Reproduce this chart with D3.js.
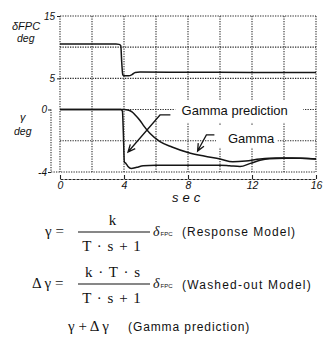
<!DOCTYPE html>
<html>
<head>
<meta charset="utf-8">
<script src="https://cdn.jsdelivr.net/npm/d3@7"></script>
<style>
  html, body { margin: 0; padding: 0; background: #fff; }
  svg { display: block; }
  .ax text { font-family: "Liberation Sans", Arial, sans-serif; font-style: italic; fill: #111; }
</style>
</head>
<body>
<svg id="chart" width="334" height="352"></svg>
<script>
// ---- time axis ----
const timeTicks = [0, 4, 8, 12, 16];
const timeTickLabels = ["0", "4", "8", "12", "16"];
const timeGrid = [2, 4, 6, 8, 10, 12, 14];

// ---- flap command (upper scale, deg) ----
const deltaTicks = [15, 5];
const deltaTickLabels = ["15", "5"];
const deltaGrid = [10, 5, 0];
const deltaFpcTime = [0, 3.5, 3.7, 3.8, 3.86, 3.92, 3.97, 4.3, 4.5, 4.7, 5.0, 8, 12, 16];
const deltaFpcDeg  = [10.5, 10.5, 10.45, 10.2, 7.5, 5.6, 5.4, 5.4, 5.6, 5.95, 6.0, 5.97, 5.95, 5.95];

// ---- flight path angle (lower scale, deg) ----
const gammaTicks = [0, -4];
const gammaTickLabels = ["0", "-4"];
const gammaGrid = [-2];
const gammaTime = [0, 4.0, 4.3, 4.5, 4.7, 5.0, 5.2, 5.6, 6.25, 7.0, 8.0, 9.0, 10.0, 10.8, 11.6, 12.5, 13.5, 14.5, 16];
const gammaDeg  = [0, 0, -0.05, -0.15, -0.35, -0.7, -1.0, -1.5, -2.05, -2.4, -2.75, -2.98, -3.17, -3.35, -3.3, -3.17, -3.1, -3.1, -3.17];

const predictionTime = [0, 3.8, 3.9, 3.96, 4.02, 4.12, 4.25, 4.45, 4.8, 5.2, 6, 8, 10, 10.6, 11.25, 11.9, 12.5, 13.1, 14, 15, 16];
const predictionDeg  = [0, 0, -0.1, -1.5, -3.35, -3.45, -3.65, -3.78, -3.7, -3.6, -3.57, -3.56, -3.56, -3.6, -3.65, -3.45, -3.25, -3.15, -3.12, -3.12, -3.17];

// ---- annotations (time, gamma) ----
const noteLabels = ["Gamma prediction", "Gamma"];
const noteTextAt = [[7.6, -0.35], [10.5, -2.15]];
const noteStart  = [[6.9, -0.35], [9.65, -1.63]];
const noteElbow  = [[6.25, -0.35], [9.15, -1.63]];
const noteTip    = [[4.25, -2.72], [8.6, -2.66]];
const noteBox    = [[7.2, 0.6, 8.0, 1.45], [9.75, -1.05, 3.85, 1.4]]; // t0, g0, width(t), height(g)

const svg = d3.select("#chart");
svg.append("rect").attr("width", 334).attr("height", 352).attr("fill", "#fff");

const x = d3.scaleLinear().domain([0, 16]).range([60, 316]);
const yD = d3.scaleLinear().domain([0, 15]).range([109.5, 16]);
const yG = d3.scaleLinear().domain([-4, 0]).range([172, 109.5]);

const dotted = sel => sel.attr("stroke", "#2a2a2a").attr("stroke-width", 1.1)
  .attr("stroke-dasharray", "1.3,1.2").attr("fill", "none");

const grid = svg.append("g");
// vertical grid
grid.selectAll(".vg").data(timeGrid).join("line")
  .attr("x1", d => x(d)).attr("x2", d => x(d))
  .attr("y1", yD(15)).attr("y2", yG(-4)).call(dotted);
// frame left/right
grid.selectAll(".vb").data([0, 16]).join("line")
  .attr("x1", d => x(d)).attr("x2", d => x(d))
  .attr("y1", yD(15)).attr("y2", yG(-4)).call(dotted);
// upper horizontal grid
grid.selectAll(".hd").data([15].concat(deltaGrid)).join("line")
  .attr("x1", x(0)).attr("x2", x(16))
  .attr("y1", d => yD(d)).attr("y2", d => yD(d)).call(dotted);
// lower horizontal grid
grid.selectAll(".hg").data(gammaGrid).join("line")
  .attr("x1", x(0)).attr("x2", x(16))
  .attr("y1", d => yG(d)).attr("y2", d => yG(d)).call(dotted);
// bottom edge, starting at the gamma axis
grid.append("line").attr("x1", 51).attr("x2", x(16))
  .attr("y1", yG(-4)).attr("y2", yG(-4)).call(dotted);
// gamma axis spine
grid.append("line").attr("x1", 51).attr("x2", 51)
  .attr("y1", yG(0)).attr("y2", yG(-4)).call(dotted);

// white label boxes
svg.selectAll(".nb").data(noteBox).join("rect")
  .attr("x", d => x(d[0])).attr("y", d => yG(d[1]))
  .attr("width", d => x(d[0] + d[2]) - x(d[0]))
  .attr("height", d => yG(d[1] - d[3]) - yG(d[1]))
  .attr("fill", "#fff");

// curves
const lineD = d3.line().x(d => x(d[0])).y(d => yD(d[1])).curve(d3.curveMonotoneX);
const lineG = d3.line().x(d => x(d[0])).y(d => yG(d[1])).curve(d3.curveMonotoneX);
const curveStyle = sel => sel.attr("fill", "none").attr("stroke", "#151515")
  .attr("stroke-width", 1.5).attr("stroke-linejoin", "round");

svg.append("path").datum(d3.zip(deltaFpcTime, deltaFpcDeg)).attr("d", lineD).call(curveStyle);
svg.append("path").datum(d3.zip(gammaTime, gammaDeg)).attr("d", lineG).call(curveStyle);
svg.append("path").datum(d3.zip(predictionTime, predictionDeg)).attr("d", lineG).call(curveStyle);

// annotation text and leaders
svg.selectAll(".nt").data(noteLabels).join("text")
  .attr("x", (d, i) => x(noteTextAt[i][0])).attr("y", (d, i) => yG(noteTextAt[i][1]))
  .attr("font-family", "Liberation Sans, Arial, sans-serif").attr("font-size", 13)
  .attr("fill", "#111").text(d => d);

noteLabels.forEach((d, i) => {
  const p0 = [x(noteStart[i][0]), yG(noteStart[i][1])];
  const p1 = [x(noteElbow[i][0]), yG(noteElbow[i][1])];
  const p2 = [x(noteTip[i][0]), yG(noteTip[i][1])];
  const ang = Math.atan2(p2[1] - p1[1], p2[0] - p1[0]);
  const L = 8, spread = 0.42;
  const a1 = [p2[0] - L * Math.cos(ang - spread), p2[1] - L * Math.sin(ang - spread)];
  const a2 = [p2[0] - L * Math.cos(ang + spread), p2[1] - L * Math.sin(ang + spread)];
  svg.append("path")
    .attr("d", d3.line()([p0, p1, p2]) + "M" + a1 + "L" + p2 + "L" + a2)
    .attr("fill", "none").attr("stroke", "#151515").attr("stroke-width", 1.3);
});

// time axis (offset below the frame)
const xAxis = d3.axisBottom(x).tickValues(timeTicks)
  .tickFormat((d, i) => timeTickLabels[i]).tickSizeInner(-4).tickSizeOuter(0).tickPadding(3);
const gx = svg.append("g").attr("class", "ax").attr("transform", "translate(0,179)").call(xAxis);
gx.select(".domain").attr("stroke", "#222").attr("stroke-width", 1.1).attr("stroke-dasharray", "3,1");
gx.selectAll(".tick line").attr("stroke", "#222").attr("stroke-width", 1.1);
gx.selectAll("text").attr("font-size", 10.5);

svg.append("text").attr("class", "axl")
  .attr("x", 172).attr("y", 202)
  .attr("font-family", "Liberation Sans, Arial, sans-serif").attr("font-style", "italic")
  .attr("font-size", 13).attr("letter-spacing", 4).attr("fill", "#111").text("sec");

// upper scale ticks
const yDAxis = d3.axisLeft(yD).tickValues(deltaTicks)
  .tickFormat((d, i) => deltaTickLabels[i]).tickSizeInner(3).tickSizeOuter(0).tickPadding(2);
const gd = svg.append("g").attr("class", "ax").attr("transform", "translate(60,0)").call(yDAxis);
gd.select(".domain").remove();
gd.selectAll(".tick line").attr("stroke", "#222");
gd.selectAll("text").attr("font-size", 10);

// lower scale ticks
const yGAxis = d3.axisLeft(yG).tickValues(gammaTicks)
  .tickFormat((d, i) => gammaTickLabels[i]).tickSizeInner(3).tickSizeOuter(0).tickPadding(1);
const gg = svg.append("g").attr("class", "ax").attr("transform", "translate(51,0)").call(yGAxis);
gg.select(".domain").remove();
gg.selectAll(".tick line").attr("stroke", "#222");
gg.selectAll("text").attr("font-size", 10);

// axis titles
const sans = "Liberation Sans, Arial, sans-serif";
const title = (tx, ty, s, fs) => svg.append("text").attr("x", tx).attr("y", ty)
  .attr("font-family", sans).attr("font-style", "italic").attr("font-size", fs || 11)
  .attr("fill", "#111").text(s);
title(12, 30, "δFPC");
title(17, 42, "deg", 10.5);
title(20, 121, "γ");
title(14, 135, "deg", 10.5);

// ---- transfer-function notes ----
const serif = "Liberation Serif, Times New Roman, serif";
const tx = (px, py, s, opt = {}) => svg.append("text").attr("x", px).attr("y", py)
  .attr("font-family", opt.family || serif).attr("font-size", opt.size || 15)
  .attr("font-style", opt.italic ? "italic" : "normal")
  .attr("text-anchor", opt.anchor || "start")
  .attr("letter-spacing", opt.ls || 0).attr("fill", "#111").text(s);

const fraction = (barY, num, den) => {
  svg.append("line").attr("x1", 78).attr("x2", 150).attr("y1", barY).attr("y2", barY)
    .attr("stroke", "#111").attr("stroke-width", 1.2);
  tx(113, barY - 7, num, { anchor: "middle", ls: 1 });
  tx(112, barY + 19, den, { anchor: "middle", ls: 1 });
  tx(153, barY + 4, "δ", { italic: true, size: 14 });
  tx(160.5, barY + 4, "FPC", { family: sans, size: 6 });
};

tx(45, 236, "γ =");
fraction(232, "k", "T · s + 1");
tx(182, 236, "(Response Model)", { family: sans, size: 12, ls: 1 });

tx(32, 288, "Δ γ =");
fraction(284, "k · T · s", "T · s + 1");
tx(182, 289, "(Washed-out  Model)", { family: sans, size: 12, ls: 1.2 });

tx(68, 331, "γ + Δ γ");
tx(128, 331, "(Gamma prediction)", { family: sans, size: 12, ls: 0.9 });
</script>
</body>
</html>
